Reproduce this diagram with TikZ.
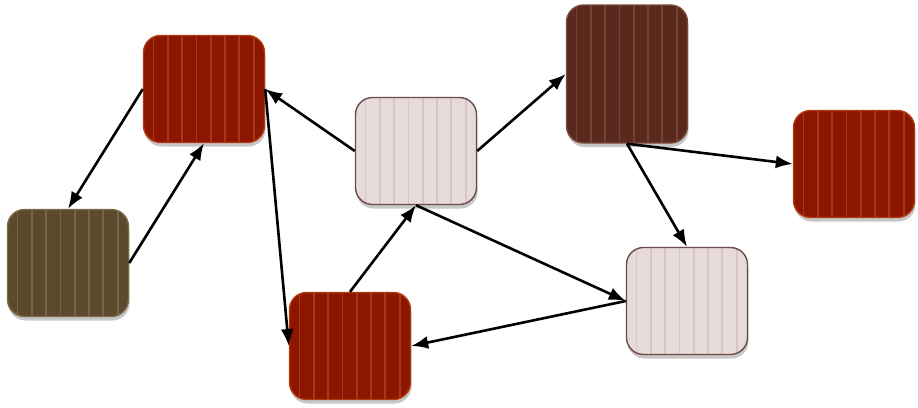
\documentclass[tikz,border=0pt]{standalone}
\usepackage{tikz}
\usetikzlibrary{arrows.meta}
\usetikzlibrary{shadows}

\definecolor{redfill}{HTML}{8C1600}
\definecolor{redline}{HTML}{A63A16}
\definecolor{rededge}{HTML}{B3390F}
\definecolor{olivefill}{HTML}{5B4A2D}
\definecolor{oliveline}{HTML}{786445}
\definecolor{oliveedge}{HTML}{7D6A48}
\definecolor{pinkfill}{HTML}{E7DADA}
\definecolor{pinkline}{HTML}{D8C4C4}
\definecolor{pinkedge}{HTML}{6E4A4A}
\definecolor{brownfill}{HTML}{5A291E}
\definecolor{brownline}{HTML}{72432F}
\definecolor{brownedge}{HTML}{7A4A3A}

\tikzset{
  card/.style={draw=#1edge, fill=#1fill, line width=1.4pt, rounded corners=17pt,
    minimum width=121pt, minimum height=107pt, inner sep=0pt,
    drop shadow={shadow xshift=1pt, shadow yshift=-4pt, fill=black, opacity=0.22},
    path picture={\foreach \k in {0,...,7}
      \draw[#1line, line width=1.8pt]
        ([xshift=10pt+\k*14.3pt]path picture bounding box.north west) --
        ([xshift=10pt+\k*14.3pt]path picture bounding box.south west);}},
  link/.style={-{Latex[length=17pt,width=13pt]}, line width=2.6pt, black}
}

\begin{document}
\begin{tikzpicture}[x=1pt,y=-1pt]
    \useasboundingbox (0,0) rectangle (918,407);
    % the boxes
    \node[card=red] (nw) at (204,89) {};
    \node[card=olive] (w) at (68,263) {};
    \node[card=pink] (mid) at (416,151) {};
    \node[card=brown, minimum height=138pt] (ne) at (627,74) {};
    \node[card=red] (e) at (854,164) {};
    \node[card=pink] (se) at (687,301) {};
    \node[card=red] (s) at (350,346) {};
    % the links
    \draw[link] (nw.west) -- (w.north);
    \draw[link] (w.east) -- (nw.south);
    \draw[link] (mid.west) -- (nw.east);
    \draw[link] (nw.east) -- (s.west);
    \draw[link] (s.north) -- (mid.south);
    \draw[link] (mid.south) -- (se.west);
    \draw[link] (se.west) -- (s.east);
    \draw[link] (mid.east) -- (ne.west);
    \draw[link] (ne.south) -- (e.west);
    \draw[link] (ne.south) -- (se.north);
\end{tikzpicture}
\end{document}
